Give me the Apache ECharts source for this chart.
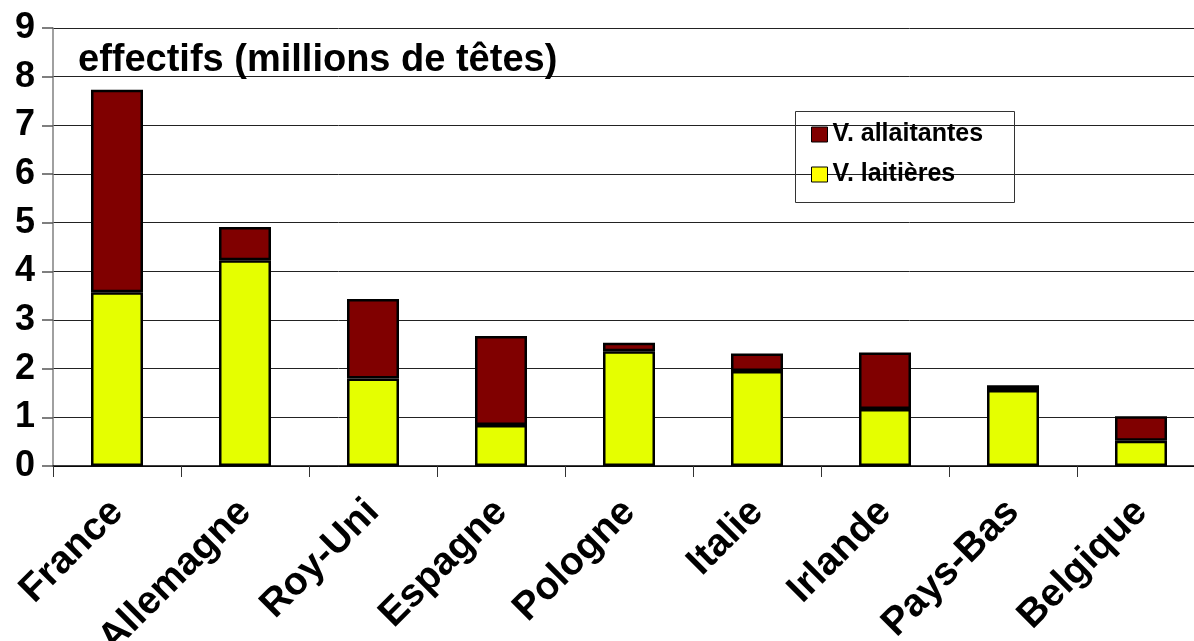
<!DOCTYPE html>
<html>
<head>
<meta charset="utf-8">
<script src="https://cdn.jsdelivr.net/npm/echarts@6/dist/echarts.min.js"></script>
<style>
html,body{margin:0;padding:0;background:#fff;}
#c{width:1194px;height:641px;}
</style>
</head>
<body>
<div id="c"></div>
<script>
const categories = ['France','Allemagne','Roy-Uni','Espagne','Pologne','Italie','Irlande','Pays-Bas','Belgique'];
const laitieres = [3.57, 4.23, 1.80, 0.84, 2.36, 1.95, 1.17, 1.56, 0.52];
const allaitantes = [4.16, 0.68, 1.63, 1.83, 0.17, 0.36, 1.16, 0.10, 0.50];
const yTicks = [0,1,2,3,4,5,6,7,8,9];
const titleText = 'effectifs (millions de têtes)';
const seriesNames = ['V. laitières', 'V. allaitantes'];

const FONT = '"Liberation Sans", Arial, Helvetica, sans-serif';
const chart = echarts.init(document.getElementById('c'), null, {renderer:'canvas'});
chart.setOption({
  animation: false,
  backgroundColor: '#fff',
  textStyle: {fontFamily: FONT},
  title: {
    text: titleText,
    left: 78, top: 42, padding: 0,
    textStyle: {fontFamily: FONT, fontSize: 38, fontWeight: 'bold', color: '#000'}
  },
  graphic: [{
    type: 'rect', left: 793, top: 109, z: 10,
    shape: {width: 219, height: 91},
    style: {fill: 'none', stroke: '#333', lineWidth: 1}
  }],
  legend: {
    orient: 'vertical', left: 811, top: 122, padding: 0,
    itemWidth: 16, itemHeight: 15, itemGap: 15,
    icon: 'rect',
    textStyle: {fontFamily: FONT, fontSize: 25, fontWeight: 'bold', color: '#000'},
    data: [
      {name: seriesNames[1], itemStyle: {color: '#800000', borderColor: '#000', borderWidth: 1}},
      {name: seriesNames[0], itemStyle: {color: '#ffff00', borderColor: '#000', borderWidth: 1}}
    ]
  },
  grid: {left: 53, right: -11, top: 28, bottom: 175, containLabel: false, outerBoundsMode: 'none'},
  xAxis: {
    type: 'category', data: categories,
    axisLine: {show: true, lineStyle: {color: '#000', width: 1.5}},
    axisTick: {show: true, length: 11, lineStyle: {color: '#333', width: 1}},
    axisLabel: {rotate: 45, margin: 40, fontFamily: FONT, fontSize: 39, fontWeight: 'bold', color: '#000', interval: 0}
  },
  yAxis: {
    type: 'value', min: 0, max: 9, interval: 1,
    axisLine: {show: true, lineStyle: {color: '#808080', width: 1.5}},
    axisTick: {show: true, length: 11, lineStyle: {color: '#555', width: 1.5}},
    axisLabel: {margin: 18, fontFamily: FONT, fontSize: 36, fontWeight: 'bold', color: '#000',
      formatter: function(v){ return yTicks.indexOf(v) >= 0 ? String(v) : ''; }},
    splitLine: {show: true, lineStyle: {color: '#222', width: 1}}
  },
  series: [
    {
      name: seriesNames[0], type: 'bar', stack: 'total', data: laitieres,
      barWidth: 52,
      itemStyle: {color: '#e5ff00', borderColor: '#000', borderWidth: 2.5}
    },
    {
      name: seriesNames[1], type: 'bar', stack: 'total', data: allaitantes,
      barWidth: 52,
      itemStyle: {color: '#800000', borderColor: '#000', borderWidth: 2.5}
    }
  ]
});
</script>
</body>
</html>
